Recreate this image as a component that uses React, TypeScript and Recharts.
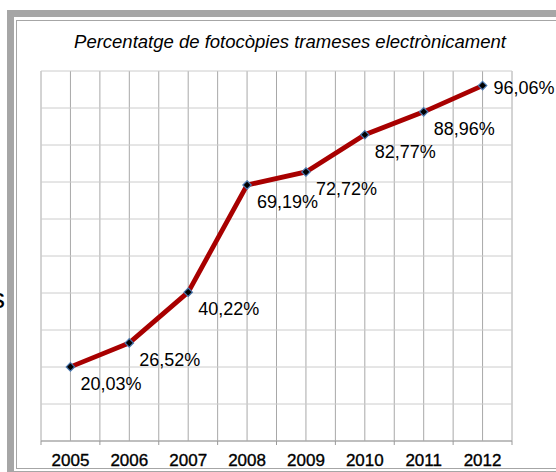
import { LineChart, Line, XAxis, YAxis, CartesianGrid } from "recharts";

const years = ["2005", "2006", "2007", "2008", "2009", "2010", "2011", "2012"];
const percentages = [20.03, 26.52, 40.22, 69.19, 72.72, 82.77, 88.96, 96.06];
const yTicks = [0, 10, 20, 30, 40, 50, 60, 70, 80, 90, 100];

const data = years.map((year, i) => ({ year, value: percentages[i] }));

const FONT = "'Liberation Sans', Arial, sans-serif";
const FRAME = "#a6a6a6";

const fmt = (v: number) => `${v.toFixed(2).replace(".", ",")}%`;

// vertical gridlines on every half category
const halfBandLines = ({ offset }: any) =>
  Array.from({ length: years.length * 2 + 1 }, (_, i) => offset.left + (offset.width * i) / (years.length * 2));

const YearTick = (props: any) => {
  const { x, y, payload, index, width } = props;
  const half = payload.offset || (width / years.length) / 2;
  const last = index === years.length - 1;
  return (
    <g>
      <line x1={x - half} x2={x - half} y1={y} y2={y + 4} stroke="#999" />
      {last && <line x1={x + half} x2={x + half} y1={y} y2={y + 4} stroke="#999" />}
      <text x={x} y={y + 25} textAnchor="middle" fontFamily={FONT} fontSize={17} fill="#000" stroke="#000" strokeWidth={0.35}>
        {payload.value}
      </text>
    </g>
  );
};

const Diamond = (props: any) => {
  const { cx, cy } = props;
  if (cx == null || cy == null) return null;
  const r = 4.2;
  return (
    <path
      d={`M${cx},${cy - r}L${cx + r},${cy}L${cx},${cy + r}L${cx - r},${cy}Z`}
      fill="#000"
      stroke="#4a78b0"
      strokeWidth={1.2}
    />
  );
};

const PointLabel = (props: any) => {
  const { x, y, value, index } = props;
  const last = index === percentages.length - 1;
  return (
    <text
      x={x + (last ? 11 : 10)}
      y={y + (last ? 8 : 23)}
      fontFamily={FONT}
      fontSize={18}
      fill="#000"
    >
      {fmt(value)}
    </text>
  );
};

export default function App() {
  return (
    <div style={{ position: "absolute", left: 0, top: 0, width: 556, height: 472, overflow: "hidden", background: "#fff" }}>
      <div style={{ position: "absolute", left: 7, top: 10, width: 700, height: 468, boxSizing: "border-box", border: `7px solid ${FRAME}` }} />
      <div style={{ position: "absolute", left: 16, top: 20, width: 700, height: 449, boxSizing: "border-box", border: `1px solid ${FRAME}` }} />
      <svg width={556} height={472} style={{ position: "absolute", left: 0, top: 0 }}>
        <text x={290} y={48} textAnchor="middle" fontFamily={FONT} fontStyle="italic" fontSize={18.5} fill="#000">
          Percentatge de fotocòpies trameses electrònicament
        </text>
        <text x={-9} y={308} fontFamily={FONT} fontSize={28} fill="#000">s</text>
      </svg>
      <div style={{ position: "absolute", left: 0, top: 0 }}>
        <LineChart width={556} height={472} data={data} margin={{ top: 71, right: 44, left: 41, bottom: 1 }}>
          <CartesianGrid horizontal={false} stroke="#a8a8a8" verticalCoordinatesGenerator={halfBandLines} />
          <CartesianGrid vertical={false} stroke="#cccccc" />
          <XAxis
            dataKey="year"
            type="category"
            scale="band"
            interval={0}
            height={30}
            tickLine={false}
            tickSize={0}
            tickMargin={0}
            axisLine={{ stroke: "#999" }}
            tick={<YearTick />}
          />
          <YAxis domain={[0, 100]} ticks={yTicks} interval={0} hide />
          <Line
            type="linear"
            dataKey="value"
            stroke="#a80000"
            strokeWidth={4.8}
            dot={<Diamond />}
            activeDot={false}
            label={<PointLabel />}
            isAnimationActive={false}
          />
        </LineChart>
      </div>
    </div>
  );
}
